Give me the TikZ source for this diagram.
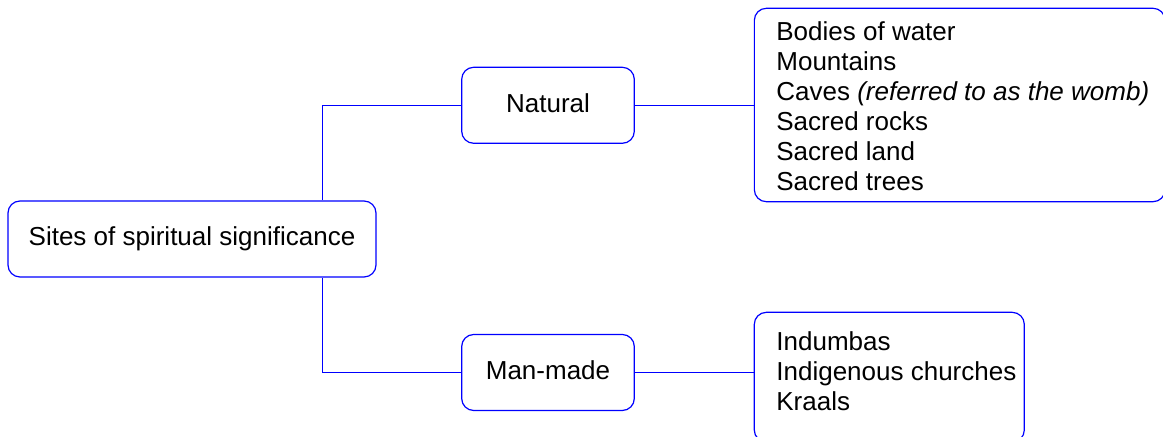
\documentclass[tikz,border=0pt]{standalone}
\usepackage{fontspec}
\setmainfont{Liberation Sans}
\begin{document}
\begin{tikzpicture}[x=0.5pt,y=-0.5pt,
  box/.style={draw=blue, line width=0.6pt, rounded corners=6pt, fill=white, inner sep=0pt},
  lbl/.style={font=\fontsize{13}{15}\selectfont, text height=9.5pt, text depth=2.7pt},
  listtext/.style={font=\fontsize{13}{15}\selectfont, inner sep=0pt, anchor=base west},
  conn/.style={draw=blue, line width=0.6pt}]
\useasboundingbox (0,0) rectangle (1163,437);
% junction x
\coordinate (j) at (322.7,239);
\node[box, lbl, minimum width=184pt, minimum height=38pt] (root) at (192,239) {Sites of spiritual significance};
\node[box, lbl, minimum width=86.3pt, minimum height=38pt] (nat) at (548,105.3) {Natural};
\node[box, lbl, minimum width=86.3pt, minimum height=38pt] (man) at (548,372.5) {Man-made};
\node[box, minimum width=205.35pt, minimum height=96.7pt] (l1) at (959.7,105) {};
\node[box, minimum width=135pt, minimum height=64.85pt] (l2) at (889.3,377.2) {};
\node[listtext] (t1) at (776,40.7) {\begin{tabular}[t]{@{}l@{}}Bodies of water\\ Mountains\\ Caves \textit{(referred to as the womb)}\\ Sacred rocks\\ Sacred land\\ Sacred trees\end{tabular}};
\node[listtext] (t2) at (776,350.7) {\begin{tabular}[t]{@{}l@{}}Indumbas\\ Indigenous churches\\ Kraals\end{tabular}};
% connectors
\draw[conn] (nat.west) -| (root.north -| j);
\draw[conn] (man.west) -| (root.south -| j);
\draw[conn] (nat.east) -- (l1.west |- nat.east);
\draw[conn] (man.east) -- (l2.west |- man.east);
\end{tikzpicture}
\end{document}
